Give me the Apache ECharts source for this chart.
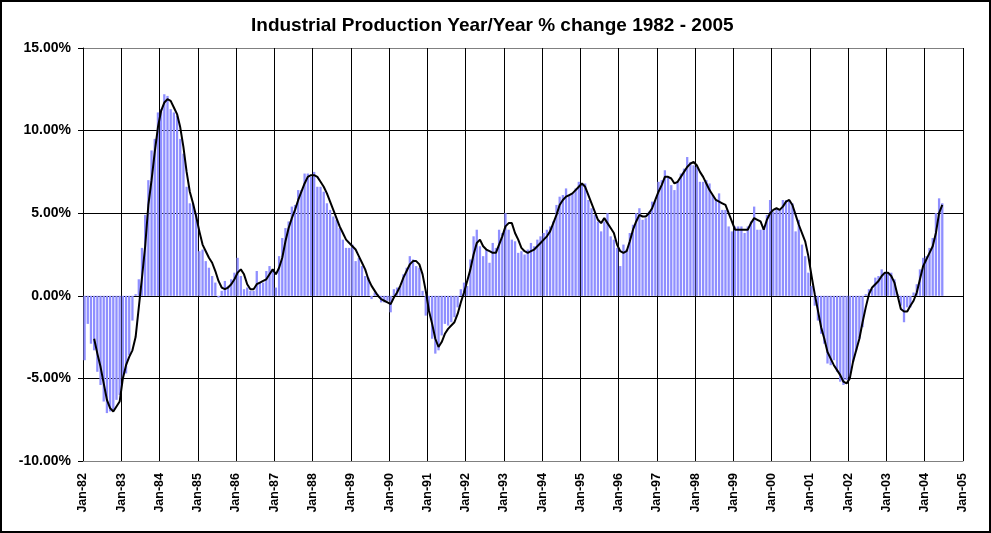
<!DOCTYPE html>
<html lang="en">
<head>
    <meta charset="UTF-8">
    <title>Industrial Production</title>
    <script src="https://cdn.jsdelivr.net/npm/echarts@6/dist/echarts.min.js"></script>
    <style>
        body { margin: 0; background: #fff; }
        #wrap { position: relative; width: 991px; height: 533px; }
        #main { width: 991px; height: 533px; }
        #frame { position: absolute; left: 0; top: 0; width: 991px; height: 533px;
                 box-sizing: border-box; border: 2px solid #000; pointer-events: none; }
    </style>
    <script>
        // axis labels, one per January
        var tickLabels = ['Jan-82', 'Jan-83', 'Jan-84', 'Jan-85', 'Jan-86', 'Jan-87', 'Jan-88', 'Jan-89',
            'Jan-90', 'Jan-91', 'Jan-92', 'Jan-93', 'Jan-94', 'Jan-95', 'Jan-96', 'Jan-97', 'Jan-98',
            'Jan-99', 'Jan-00', 'Jan-01', 'Jan-02', 'Jan-03', 'Jan-04', 'Jan-05'];

        // monthly year/year % change (bars), Jan-82 onwards
        var ipChange = [
            -3.9, -1.7, -2.9, -3.3, -4.6, -5.4, -6.4, -7.1, -7.0, -6.9, -6.3, -6.0,   // 1982
            -5.0, -4.7, -3.6, -1.5, 0.1, 1.0, 2.9, 4.9, 7.0, 8.8, 9.5, 11.1,          // 1983
            11.3, 12.2, 12.1, 11.3, 11.1, 10.9, 9.5, 8.6, 6.6, 5.6, 5.6, 5.0,         // 1984
            2.7, 2.8, 2.1, 1.7, 1.2, 0.8, -0.1, 0.3, 0.9, 0.6, 1.0, 1.4,              // 1985
            2.3, 1.2, 0.4, 0.5, 0.3, 0.3, 1.5, 0.8, 0.8, 1.5, 1.8, 1.6,               // 1986
            0.5, 2.4, 3.5, 4.1, 4.5, 5.4, 5.5, 6.4, 6.4, 7.4, 7.4, 7.2,               // 1987
            7.5, 6.6, 6.6, 6.3, 5.6, 5.2, 4.8, 4.6, 4.1, 3.4, 2.9, 2.9,               // 1988
            3.1, 2.1, 2.3, 1.8, 1.2, 1.1, -0.2, 0.2, 0.1, -0.4, -0.4, -0.3,           // 1989
            -1.0, 0.4, 0.5, 0.6, 1.3, 1.7, 2.4, 2.2, 1.8, 1.7, 0.3, -1.2,             // 1990
            -1.0, -2.6, -3.5, -3.3, -2.4, -1.7, -1.8, -1.6, -1.3, -0.7, 0.4, 0.8,     // 1991
            0.6, 2.2, 3.6, 4.0, 3.0, 2.4, 2.8, 2.0, 3.2, 2.9, 4.0, 3.8,               // 1992
            5.0, 4.0, 3.4, 3.3, 2.6, 2.7, 2.5, 2.8, 3.2, 3.0, 3.4, 3.6,               // 1993
            3.8, 4.0, 4.2, 4.5, 5.5, 6.0, 6.1, 6.5, 6.1, 6.2, 6.5, 6.9,               // 1994
            6.8, 6.8, 5.8, 5.3, 4.9, 4.5, 3.9, 4.5, 5.0, 3.6, 3.4, 2.9,               // 1995
            1.8, 3.1, 2.8, 3.8, 4.3, 5.0, 5.3, 4.6, 4.7, 5.1, 5.7, 5.8,               // 1996
            6.9, 7.0, 7.6, 7.2, 6.7, 6.4, 6.9, 7.4, 7.7, 8.4, 8.1, 7.9,               // 1997
            7.8, 6.9, 6.9, 7.0, 6.8, 6.1, 5.8, 6.2, 5.2, 5.2, 4.2, 3.9,               // 1998
            4.2, 4.2, 4.2, 3.8, 4.2, 4.5, 5.4, 4.0, 4.0, 4.2, 4.9, 5.8,               // 1999
            5.1, 5.3, 5.2, 5.8, 5.8, 5.8, 5.6, 3.9, 4.6, 3.1, 2.4, 1.4,               // 2000
            0.6, -0.6, -1.5, -2.3, -2.9, -4.1, -4.2, -3.9, -4.6, -5.2, -5.4, -5.1,    // 2001
            -4.9, -4.0, -3.3, -2.6, -1.9, 0.1, 0.4, 0.4, 1.1, 1.2, 1.6, 1.4,          // 2002
            1.4, 1.4, 1.0, 0.1, -0.6, -1.6, -0.7, -0.7, 0.2, 0.7, 1.6, 2.3,           // 2003
            2.4, 2.9, 3.5, 5.0, 5.9, 5.6                                              // 2004
        ];

        // smoothed trend (black line), same months, starts Apr-82
        var trendLine = [
            null, null, null, -2.6, -3.5, -4.3, -5.3, -6.3, -6.8, -7.0, -6.7, -6.4,   // 1982
            -5.0, -4.2, -3.7, -3.3, -2.5, -0.7, 1.1, 3.0, 5.5, 7.0, 8.7, 10.2,        // 1983
            11.2, 11.7, 11.9, 11.8, 11.4, 11.0, 10.2, 9.0, 7.5, 6.3, 5.6, 4.8,        // 1984
            3.9, 3.1, 2.7, 2.3, 2.0, 1.5, 0.9, 0.5, 0.4, 0.5, 0.7, 1.0,               // 1985
            1.4, 1.6, 1.3, 0.7, 0.4, 0.4, 0.7, 0.8, 0.9, 1.0, 1.3, 1.6,               // 1986
            1.3, 1.7, 2.3, 3.3, 4.1, 4.7, 5.2, 5.8, 6.3, 6.8, 7.2, 7.3,               // 1987
            7.3, 7.2, 6.9, 6.6, 6.2, 5.7, 5.2, 4.7, 4.2, 3.8, 3.4, 3.2,               // 1988
            3.0, 2.8, 2.4, 2.0, 1.6, 1.0, 0.6, 0.3, 0.0, -0.2, -0.3, -0.4,            // 1989
            -0.5, -0.1, 0.2, 0.6, 1.1, 1.5, 1.9, 2.1, 2.1, 1.9, 1.3, 0.3,             // 1990
            -0.9, -1.7, -2.6, -3.1, -2.8, -2.3, -2.0, -1.8, -1.6, -1.1, -0.4, 0.2,    // 1991
            0.9, 1.6, 2.5, 3.2, 3.4, 3.0, 2.8, 2.7, 2.6, 2.6, 3.1, 3.6,               // 1992
            4.2, 4.4, 4.4, 3.8, 3.4, 2.9, 2.7, 2.6, 2.7, 2.8, 3.0, 3.2,               // 1993
            3.4, 3.6, 3.9, 4.4, 4.9, 5.5, 5.8, 6.0, 6.1, 6.2, 6.4, 6.6,               // 1994
            6.8, 6.6, 6.1, 5.6, 5.1, 4.6, 4.4, 4.7, 4.4, 4.1, 3.8, 3.1,               // 1995
            2.7, 2.6, 2.7, 3.3, 4.0, 4.5, 4.9, 4.8, 4.8, 5.0, 5.3, 5.8,               // 1996
            6.3, 6.7, 7.2, 7.2, 7.1, 6.8, 6.9, 7.2, 7.5, 7.8, 8.0, 8.1,               // 1997
            7.9, 7.5, 7.2, 6.8, 6.4, 6.1, 5.8, 5.7, 5.6, 5.5, 5.0, 4.5,               // 1998
            4.0, 4.0, 4.0, 4.0, 4.0, 4.4, 4.7, 4.6, 4.5, 4.0, 4.6, 5.0,               // 1999
            5.2, 5.3, 5.2, 5.4, 5.7, 5.8, 5.5, 4.9, 4.3, 3.8, 3.3, 2.4,               // 2000
            1.2, 0.1, -0.9, -1.9, -2.6, -3.4, -3.8, -4.2, -4.5, -4.8, -5.2, -5.3,     // 2001
            -5.0, -4.0, -3.3, -2.6, -1.6, -0.7, 0.1, 0.5, 0.7, 0.9, 1.2, 1.4,         // 2002
            1.4, 1.2, 0.8, 0.0, -0.8, -0.95, -0.95, -0.6, -0.3, 0.2, 1.0, 1.8,        // 2003
            2.2, 2.6, 3.0, 3.8, 5.0, 5.5                                              // 2004
        ];

        var yTicks = ['#808080', '#000', '#000', '#000', '#000', '#808080'];
        var font = '"Liberation Sans", Arial, sans-serif';

        window.onload = function () {
            var myChart = echarts.init(document.getElementById('main'));

            // each month sits in the middle of its slot on the month axis
            var barData = ipChange.map(function (v, i) { return [i + 0.5, v]; });
            var lineData = [];
            trendLine.forEach(function (v, i) {
                if (v !== null) lineData.push([i + 0.5, v]);
            });

            var option = {
                animation: false,
                backgroundColor: '#fff',
                title: {
                    text: 'Industrial Production Year/Year % change 1982 - 2005',
                    left: 246,
                    top: 11,
                    textStyle: { fontFamily: font, fontSize: 19, fontWeight: 'bold', color: '#000' }
                },
                grid: { left: 83, right: 28, top: 48, bottom: 72 },
                xAxis: {
                    type: 'value',
                    min: 0,
                    max: (tickLabels.length - 1) * 12,
                    interval: 12,
                    axisLine: { onZero: false, lineStyle: { color: '#808080', width: 1 } },
                    axisTick: { show: false },
                    axisLabel: {
                        rotate: 90,
                        margin: 12,
                        fontFamily: font,
                        fontSize: 12.5,
                        fontWeight: 'bold',
                        color: '#000',
                        formatter: function (v) { return tickLabels[Math.round(v / 12)] || ''; }
                    },
                    splitLine: { show: true, lineStyle: { color: '#000', width: 1 } }
                },
                yAxis: {
                    type: 'value',
                    min: -10,
                    max: 15,
                    interval: 5,
                    axisLine: { show: true, onZero: false, lineStyle: { color: '#000', width: 1 } },
                    axisTick: { show: true, length: 5, lineStyle: { color: '#000' } },
                    axisLabel: {
                        margin: 12,
                        fontFamily: font,
                        fontSize: 14,
                        fontWeight: 'bold',
                        color: '#000',
                        formatter: function (v) { return v.toFixed(2) + '%'; }
                    },
                    splitLine: { show: true, lineStyle: { color: yTicks, width: 1 } }
                },
                series: [
                    {
                        name: 'YoY',
                        type: 'bar',
                        barWidth: 2.3,
                        itemStyle: { color: '#8f8fff' },
                        data: barData
                    },
                    {
                        name: 'Trend',
                        type: 'line',
                        symbol: 'none',
                        z: 3,
                        lineStyle: { color: '#000', width: 2 },
                        data: lineData
                    }
                ]
            };
            myChart.setOption(option);
        };
    </script>
</head>
<body>
<div id="wrap">
    <div id="main"></div>
    <div id="frame"></div>
</div>
</body>
</html>
